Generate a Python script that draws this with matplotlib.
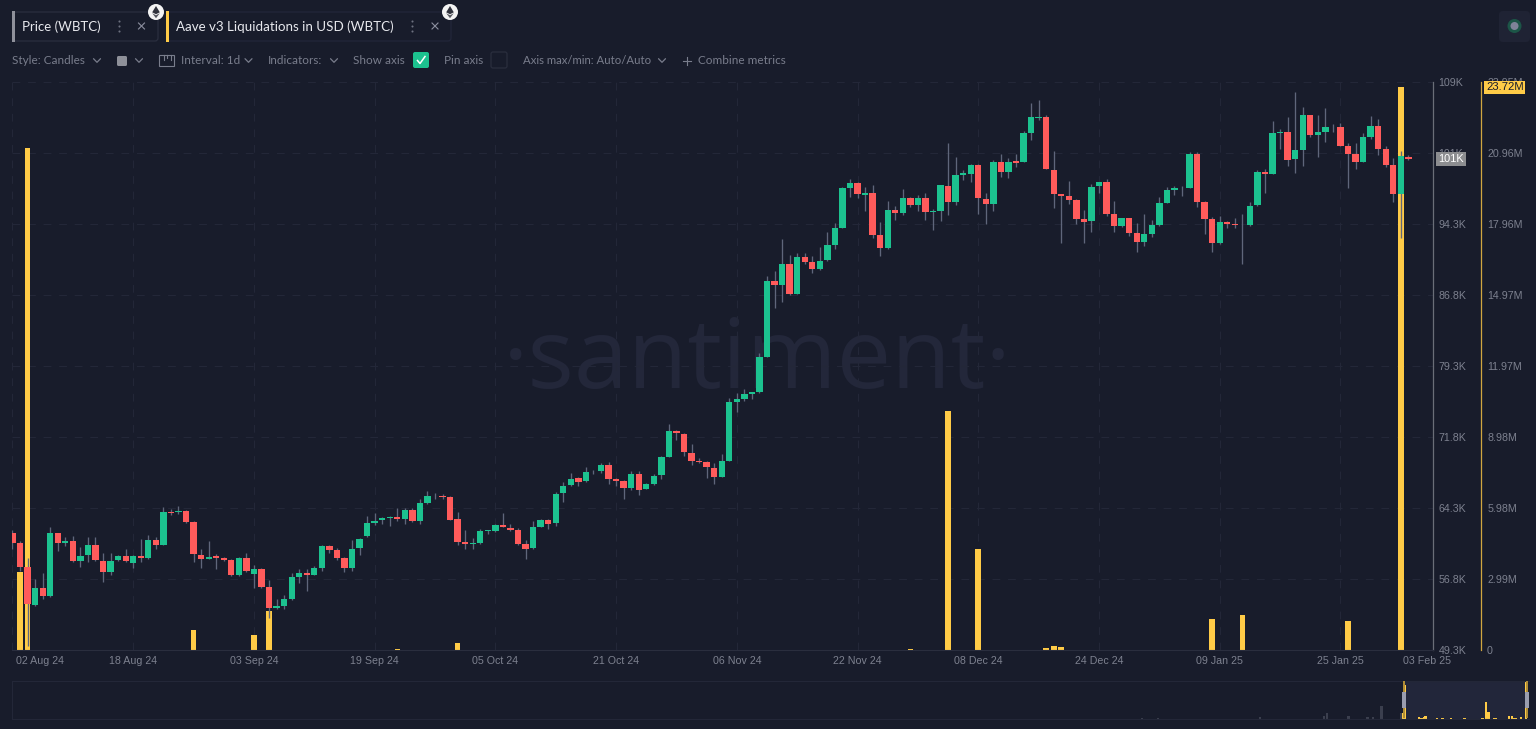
import matplotlib
matplotlib.use("Agg")
import matplotlib.pyplot as plt
import numpy as np
from matplotlib.patches import FancyBboxPatch, Rectangle, Circle, Polygon
from matplotlib.transforms import ScaledTranslation

# ---------- data ----------
opens = [61.70,60.57,58.03,54.02,55.89,54.97,61.63,60.64,60.78,58.70,
59.30,60.43,58.74,57.54,58.81,59.23,58.49,59.20,58.99,60.96,
60.36,63.84,63.84,64.02,62.82,59.37,58.92,59.20,58.99,58.81,
57.23,58.99,57.37,57.82,55.96,53.70,53.95,54.65,57.01,57.47,
57.26,58.00,60.32,59.83,58.99,58.00,60.08,61.31,62.72,63.03,
63.28,63.38,63.14,64.09,62.93,64.86,65.60,65.60,65.46,63.10,
60.71,60.53,60.64,61.87,61.87,62.50,62.19,61.98,60.50,60.04,
62.33,63.03,62.68,65.85,66.73,67.47,67.12,68.10,68.17,68.81,
67.33,67.15,66.38,67.89,66.34,66.87,67.75,69.69,72.43,72.15,
70.11,69.26,69.16,68.56,67.61,69.30,75.50,75.81,76.38,76.52,
80.22,88.28,87.86,90.04,86.94,90.85,90.25,89.51,90.46,92.08,
93.91,98.14,98.67,97.40,97.54,93.10,91.73,95.78,95.46,97.08,
96.31,97.05,95.53,95.67,98.35,96.62,99.51,99.62,100.53,96.98,
96.41,100.85,99.76,100.92,100.81,103.94,105.55,105.57,100.00,97.43,
97.22,96.80,94.79,94.58,98.28,98.74,95.36,94.12,94.90,93.35,
92.43,93.24,94.19,96.55,97.93,98.07,98.14,101.69,96.62,94.83,
92.26,94.51,94.30,94.23,94.16,96.27,99.79,99.58,103.95,104.02,
101.13,102.15,105.78,103.67,103.98,104.55,104.55,102.54,101.66,100.88,
103.45,104.65,102.19,100.53,97.47,101.38]
closes = [60.64,58.11,54.13,55.85,55.04,61.70,60.64,60.78,58.74,59.27,
60.43,58.81,57.54,58.70,59.20,58.67,59.20,59.02,60.92,60.36,
63.84,63.74,64.02,62.82,59.44,58.95,59.16,59.02,58.81,57.23,
58.99,57.61,57.82,55.99,53.70,53.92,54.65,56.98,57.47,57.23,
58.00,60.29,59.83,59.02,58.00,60.01,61.03,62.72,62.89,63.24,
63.38,63.14,64.09,62.89,64.79,65.57,65.60,65.46,63.07,60.74,
60.50,60.60,61.87,61.94,62.50,62.26,62.01,60.50,60.00,62.29,
63.03,62.64,65.81,66.66,67.40,67.08,68.14,68.10,68.81,67.36,
67.19,66.41,67.89,66.24,66.87,67.71,69.65,72.40,72.22,70.21,
69.26,69.16,68.63,67.61,69.26,75.50,75.81,76.34,76.55,80.22,
88.31,87.82,90.04,86.94,90.85,90.29,89.55,90.43,92.05,93.88,
98.07,98.63,97.43,97.54,93.17,91.77,95.78,95.43,97.08,96.31,
97.05,95.57,95.67,98.39,96.62,99.51,99.65,100.53,97.01,96.41,
100.85,99.76,100.89,100.78,103.91,105.57,105.65,100.08,97.47,97.29,
96.83,94.83,94.55,98.24,98.74,95.39,94.12,94.90,93.38,92.43,
93.21,94.19,96.52,97.89,98.07,98.14,101.69,96.66,94.86,92.26,
94.48,94.33,94.16,94.23,96.24,99.76,99.62,103.95,104.05,101.09,
102.08,105.78,103.67,104.02,104.51,104.55,102.57,101.73,100.88,103.45,
104.69,102.19,100.57,97.47,101.45,101.16]
highs = [61.98,60.85,58.99,56.77,57.40,62.26,61.70,61.27,61.38,60.22,
61.20,61.20,59.58,59.51,59.37,59.97,59.30,60.99,61.45,61.27,
64.37,64.16,64.51,64.09,62.89,59.94,60.82,59.44,59.09,58.88,
59.09,59.51,58.28,57.96,56.70,54.65,55.11,57.47,57.82,57.82,
58.18,60.36,60.39,60.08,59.09,60.92,61.10,63.46,63.74,63.31,
63.45,64.26,64.26,64.26,65.29,66.06,65.85,65.78,65.53,63.88,
61.94,61.17,62.12,62.01,62.57,63.74,62.61,62.19,60.95,62.89,
63.10,63.10,65.99,67.08,67.96,67.61,68.67,68.31,69.02,69.12,
67.50,67.26,68.17,68.17,66.98,67.86,69.79,73.14,72.54,72.22,
71.06,69.58,69.23,69.02,69.97,75.88,76.41,76.84,76.55,80.71,
88.81,89.37,92.68,91.03,91.27,91.27,90.92,91.91,93.49,94.44,
98.24,99.02,98.74,98.24,98.42,94.51,96.77,96.24,98.03,97.19,
97.36,97.54,95.85,98.46,102.82,101.34,100.01,100.60,100.60,97.61,
101.06,101.70,101.24,101.70,104.09,107.08,107.40,105.81,102.05,97.43,
98.88,96.91,95.78,98.52,98.74,99.02,96.76,94.97,94.93,94.37,
95.32,94.72,97.19,98.24,98.31,98.31,101.90,101.90,96.69,95.00,
95.18,94.65,94.90,95.36,96.66,100.00,100.07,105.14,104.30,105.64,
108.21,106.62,105.85,105.85,106.52,104.86,104.93,102.89,102.89,103.88,
105.71,105.36,102.54,101.24,102.05,101.59]
lows = [59.97,57.65,49.76,53.95,54.65,54.87,59.73,60.29,58.56,58.11,
58.60,58.74,56.49,57.19,58.67,58.60,57.93,58.63,58.88,60.01,
60.36,63.53,63.67,62.75,58.63,57.96,58.88,57.89,58.74,57.15,
57.15,57.54,55.89,55.89,52.68,53.63,53.67,54.58,56.42,55.53,
57.19,57.61,59.51,58.81,57.54,57.61,59.30,61.24,62.47,62.61,
62.40,62.89,62.64,62.82,62.64,64.76,65.29,65.25,63.03,60.36,
60.00,60.00,60.46,61.59,61.73,62.26,61.91,60.39,58.91,60.00,
62.29,62.08,62.40,64.93,66.62,66.59,67.01,67.89,67.96,66.83,
66.59,65.21,66.24,65.67,66.27,66.76,67.40,69.65,71.48,69.79,
68.84,69.05,67.50,66.83,67.54,69.26,74.44,75.64,75.85,76.48,
80.22,85.46,86.06,86.84,86.91,90.08,89.09,89.44,90.43,91.62,
93.88,97.19,97.05,95.67,92.86,90.89,91.62,94.72,95.29,96.06,
95.67,94.72,93.70,94.62,95.29,96.31,98.95,98.70,95.32,94.34,
95.71,99.30,99.16,100.36,100.81,103.17,105.28,100.07,95.99,92.26,
96.41,94.26,92.33,93.49,97.61,95.14,93.45,94.02,93.03,91.34,
92.01,92.89,94.12,96.48,97.36,97.29,98.07,96.13,93.24,91.31,
92.19,93.84,93.88,90.04,94.12,96.24,97.61,99.58,102.19,100.43,
99.72,100.46,103.52,101.41,102.96,104.02,102.54,98.07,100.11,100.81,
103.24,101.59,100.36,96.66,92.86,101.06]

liq_days = [1,2,24,25,29,32,34,51,59,72,92,119,124,128,137,138,139,159,163,167,169,177,184]
liq_values = [3.29,21.16,0.84,0.02,0.02,0.63,1.64,0.04,0.30,0.02,0.02,0.03,10.07,4.26,0.10,0.17,0.13,1.31,1.48,0.02,0.02,1.24,23.72]

hist_days = [-391,-367,-214,-118,-114,-82,-53,-45,-32,-3]
hist_values = [0.3,0.5,1.2,1.7,3.6,1.4,0.8,0.8,8.0,3.6]

price_ticks = [49.3,56.8,64.3,71.8,79.3,86.8,94.3,101.8,109.3]
price_labels = ["49.3K","56.8K","64.3K","71.8K","79.3K","86.8K","94.3K","101K","109K"]
liq_ticks = [0,2.99,5.98,8.98,11.97,14.97,17.96,20.96,23.95]
liq_labels = ["0","2.99M","5.98M","8.98M","11.97M","14.97M","17.96M","20.96M","23.95M"]
date_days = [0,16,32,48,64,80,96,112,128,144,160,176,185]
date_labels = ["02 Aug 24","18 Aug 24","03 Sep 24","19 Sep 24","05 Oct 24","21 Oct 24","06 Nov 24",
               "22 Nov 24","08 Dec 24","24 Dec 24","09 Jan 25","25 Jan 25","03 Feb 25"]

# ---------- style ----------
BG = "#181c2b"
GRID = "#232738"
TICK = "#7d818f"
UI = "#797d8c"
GREEN = "#1cc28f"
RED = "#ff5b5b"
YELLOW = "#ffcb47"
WICK = "#5f667b"
AXFONT = ["Liberation Sans", "DejaVu Sans"]
UIFONT = ["Lato", "DejaVu Sans"]

W, H = 1536, 729
fig = plt.figure(figsize=(W/100, H/100), dpi=100, facecolor=BG)
def px_axes(x0, y0, x1, y1, **kw):
    return fig.add_axes([x0/W, (H-y1)/H, (x1-x0)/W, (y1-y0)/H], **kw)

days = np.arange(len(opens))
opens_a, closes_a = np.array(opens), np.array(closes)
up = closes_a >= opens_a

# liquidation axis (behind): carries the grid, watermark and bars
ax_liq = px_axes(12, 82, 1432.5, 650, facecolor=BG, zorder=1)
ax_liq.set_xlim(-0.066, 188.2)
ax_liq.set_ylim(0, 23.95)
ax_liq.set_axisbelow(True)
ax_liq.bar(liq_days, liq_values, width=0.74, color=YELLOW, linewidth=0, zorder=3)
for s in ("top", "left", "bottom"):
    ax_liq.spines[s].set_visible(False)
ax_liq.spines["right"].set_position(("outward", 48.5*0.72))
ax_liq.spines["right"].set_color("#d0a640")
ax_liq.spines["right"].set_linewidth(0.9)
ax_liq.yaxis.tick_right()
ax_liq.set_yticks(liq_ticks, liq_labels, fontsize=7.7, color=TICK, family=AXFONT)
ax_liq.tick_params(axis="y", length=0, pad=4.4)
ax_liq.set_xticks(date_days, [""]*len(date_days))
ax_liq.tick_params(axis="x", length=0)
ax_liq.grid(True, color=GRID, linewidth=0.8, linestyle=(0, (7, 7)))
ax_liq.get_xgridlines()[-1].set_visible(False)

# watermark
ax_liq.text(0.525, 0.461, "\u00b7santiment\u00b7", transform=ax_liq.transAxes, fontsize=70, color="#23273a",
            family=["Open Sans", "DejaVu Sans"], ha="center", va="baseline", zorder=0)

# price axis (front)
ax = px_axes(12, 82, 1432.5, 650, zorder=2)
ax.patch.set_visible(False)
ax.set_xlim(-0.066, 188.2)
ax.set_ylim(49.3, 109.3)
ax.vlines(days, lows, highs, color=WICK, linewidth=0.95, zorder=3)
bot = np.minimum(opens_a, closes_a)
hgt = np.abs(closes_a - opens_a)
ax.bar(days, hgt, bottom=bot, width=0.84, color=[GREEN if u else RED for u in up], linewidth=0, zorder=4)
for s in ("top", "left"):
    ax.spines[s].set_visible(False)
ax.spines["bottom"].set_color("#2a2e3e")
ax.spines["bottom"].set_linewidth(0.8)
ax.spines["right"].set_color("#6a6e78")
ax.spines["right"].set_linewidth(0.9)
ax.yaxis.tick_right()
ax.set_yticks(price_ticks, price_labels, fontsize=7.7, color=TICK, family=AXFONT)
ax.tick_params(axis="y", length=0, pad=4.4)
ax.set_xticks(date_days, date_labels, fontsize=7.7, color=TICK, family=AXFONT)
ax.tick_params(axis="x", length=0, pad=4)
xl = ax.get_xticklabels()
xl[0].set_transform(xl[0].get_transform() + ScaledTranslation(27.5/100, 0, fig.dpi_scale_trans))
xl[-1].set_transform(xl[-1].get_transform() + ScaledTranslation(19/100, 0, fig.dpi_scale_trans))

# value badges
ax.annotate("101K", xy=(1, 101.16), xycoords=("axes fraction", "data"), xytext=(4.0*0.72*1.39+0.3, 0),
            textcoords="offset points", fontsize=7.9, color="#ffffff", family=AXFONT, va="center", ha="left",
            annotation_clip=False, zorder=10,
            bbox=dict(boxstyle="square,pad=0.2", fc="#8c8d90", ec="none"))
ax_liq.annotate("23.72M", xy=(1, 23.72), xycoords=("axes fraction", "data"), xytext=(53.5*0.72, 0),
            textcoords="offset points", fontsize=8.1, color="#181c2b", family=AXFONT, va="center", ha="left",
            annotation_clip=False, zorder=10,
            bbox=dict(boxstyle="square,pad=0.14", fc=YELLOW, ec="none"))

# navigator
nav = px_axes(12, 680.5, 1529, 718.5, facecolor=BG, zorder=1)
nav_px = 0.667
nav.set_xlim((12-1403)/nav_px, (1529-1403)/nav_px)
nav.set_ylim(0, 23.75)
nav.add_patch(Rectangle((0, 0), 184.5, 23.75, fc="#22263a", ec="none", zorder=0))
nav.bar(hist_days, hist_values, width=3.6, color="#3b3f4e", linewidth=0, zorder=2)
nav.bar(liq_days, liq_values, width=3.6, color=YELLOW, linewidth=0, zorder=2)
nav.set_xticks([]); nav.set_yticks([])
for s in nav.spines.values():
    s.set_color("#232738"); s.set_linewidth(0.8)
nav.spines["right"].set_visible(False)

# overlay for UI chrome
ui = fig.add_axes([0, 0, 1, 1], zorder=5)
ui.set_xlim(0, W); ui.set_ylim(H, 0); ui.axis("off"); ui.patch.set_visible(False)

def chevron(x, y, c=UI):
    ui.plot([x-3.5, x, x+3.5], [y-1.8, y+1.8, y-1.8], color=c, lw=0.9, solid_capstyle="round")
def cross(x, y):
    ui.plot([x-3, x+3], [y-3, y+3], color="#8d90a0", lw=0.8)
    ui.plot([x-3, x+3], [y+3, y-3], color="#8d90a0", lw=0.8)
def dots(x, y):
    ui.plot([x, x, x], [y-5, y, y+5], ls="none", marker="o", ms=1.5, color="#6d7180", mew=0)
def eth(x, y):
    ui.add_patch(Circle((x, y), 8, fc="#f4f4f4", ec="none", zorder=6))
    ui.add_patch(Polygon([(x, y-6), (x+3.8, y+0.3), (x, y+2.2), (x-3.8, y+0.3)], fc="#30323c", ec="none", zorder=7))
    ui.add_patch(Polygon([(x, y+3.2), (x+3.8, y+1.2), (x, y+6.2), (x-3.8, y+1.2)], fc="#55575f", ec="none", zorder=7))
def label(x, y, s, c=UI, fs=8.45):
    ui.text(x, y, s, color=c, fontsize=fs, family=UIFONT, va="center", ha="left")

# tabs
ui.add_patch(FancyBboxPatch((13, 12), 145, 29, boxstyle="round,pad=0,rounding_size=3", fc=BG, ec="#2b2f3f", lw=0.9))
ui.add_patch(FancyBboxPatch((167, 12), 284, 29, boxstyle="round,pad=0,rounding_size=3", fc=BG, ec="#22263a", lw=0.9))
ui.add_patch(Rectangle((12, 11), 3, 31, fc="#8f919b", ec="none"))
ui.add_patch(Rectangle((166, 11), 3, 31, fc=YELLOW, ec="none"))
label(22, 27, "Price (WBTC)", c="#e8e9ee", fs=9.5)
label(176, 27, "Aave v3 Liquidations in USD (WBTC)", c="#e8e9ee", fs=9.6)
dots(119, 26); cross(141.5, 26); dots(412, 26); cross(435, 26)
eth(156, 12); eth(450, 12)

# toolbar
label(12, 60.5, "Style: Candles")
chevron(97, 60.5)
ui.add_patch(FancyBboxPatch((117, 56), 10, 10, boxstyle="round,pad=0,rounding_size=1.5", fc="#8e9099", ec="none"))
chevron(139, 60.5)
ui.add_patch(Rectangle((159, 55), 15, 11, fc="none", ec=UI, lw=0.8))
ui.plot([163.5, 163.5], [55, 60], color=UI, lw=0.8)
ui.plot([167, 167], [55, 58], color=UI, lw=0.8)
ui.plot([170.5, 170.5], [55, 60], color=UI, lw=0.8)
label(181, 60.5, "Interval: 1d")
chevron(248.5, 60.5)
label(268, 60.5, "Indicators:")
chevron(334, 60.5)
label(353, 60.5, "Show axis")
ui.add_patch(FancyBboxPatch((413, 52), 16, 16, boxstyle="round,pad=0,rounding_size=2", fc="#1cc28f", ec="none"))
ui.plot([417.5, 420, 425], [60.5, 63.5, 56.5], color="white", lw=1.1)
label(444, 60.5, "Pin axis")
ui.add_patch(FancyBboxPatch((491, 52), 16, 16, boxstyle="round,pad=0,rounding_size=2", fc=BG, ec="#2a2e3e", lw=0.9))
label(523, 60.5, "Axis max/min: Auto/Auto", fs=8.2)
chevron(662, 60.5)
ui.plot([682.5, 690.5], [60.5, 60.5], color=UI, lw=0.8)
ui.plot([686.5, 686.5], [56.5, 64.5], color=UI, lw=0.8)
label(698, 60.5, "Combine metrics")

# top right status icon
ui.add_patch(FancyBboxPatch((1499, 11), 31, 31, boxstyle="round,pad=0,rounding_size=4", fc="#1f2334", ec="none"))
ui.add_patch(Circle((1514.5, 26), 7, fc="#1c5547", ec="none"))
ui.add_patch(Circle((1514.5, 26), 4, fc="#7e8398", ec="none"))

# navigator handles
for hx in (1404, 1527):
    ui.add_patch(Rectangle((hx-0.9, 681), 1.8, 37, fc="#b08d36", ec="none"))
    ui.add_patch(Rectangle((hx-2.4, 692), 4.8, 16, fc="#9a9dae", ec="none"))

fig.savefig("out.png", dpi=100, facecolor=BG)
